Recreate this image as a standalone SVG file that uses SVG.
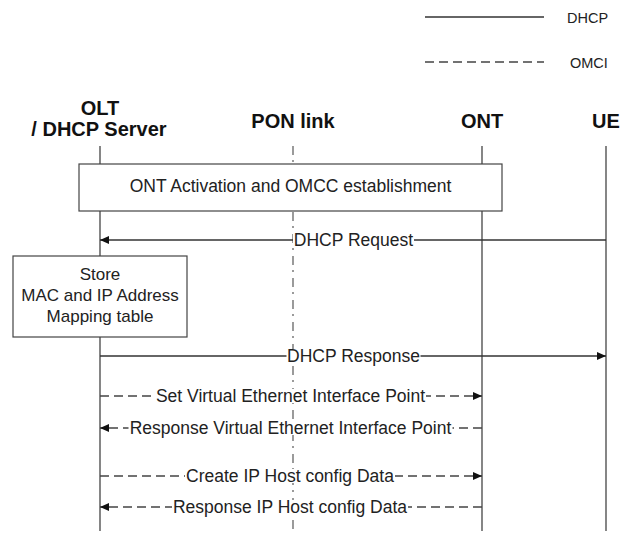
<svg xmlns="http://www.w3.org/2000/svg" width="634" height="534" viewBox="0 0 634 534">
  <style>
    .hdr { font-family: "Liberation Sans", Arial, sans-serif; font-weight: bold; font-size: 20px; fill: #111; text-anchor: middle; }
    .lbl { font-family: "Liberation Sans", Arial, sans-serif; font-size: 17.5px; fill: #222; text-anchor: middle; }
    .box-txt { font-family: "Liberation Sans", Arial, sans-serif; font-size: 17px; fill: #222; text-anchor: middle; }
    .leg { font-family: "Liberation Sans", Arial, sans-serif; font-size: 14.5px; fill: #222; }
    .life { stroke: #444; stroke-width: 1.3; fill: none; }
    .pon { stroke: #666; stroke-width: 1.3; fill: none; stroke-dasharray: 9 5 2 6; }
    .box { fill: #fff; stroke: #444; stroke-width: 1.2; }
    .dhcp { stroke: #333; stroke-width: 1.3; fill: none; }
    .omci { stroke: #444; stroke-width: 1.3; fill: none; stroke-dasharray: 9 5; }
    .mask { fill: #fff; }
  </style>
  <defs>
    <marker id="arrow" viewBox="0 0 9 8" refX="9" refY="4" markerWidth="9" markerHeight="8" markerUnits="userSpaceOnUse" orient="auto">
      <path d="M0,0 L9,4 L0,8 z" fill="#111"/>
    </marker>
  </defs>

  <!-- legend -->
  <g id="legend">
    <line x1="425" y1="17" x2="544" y2="17" class="dhcp"/>
    <text x="567" y="23" class="leg">DHCP</text>
    <line x1="425" y1="62" x2="544" y2="62" class="omci"/>
    <text x="570" y="68" class="leg">OMCI</text>
  </g>

  <!-- participants -->
  <g id="olt">
    <text x="100" y="115" class="hdr">OLT</text>
    <text x="99" y="136" class="hdr">/ DHCP Server</text>
    <line x1="100" y1="146" x2="100" y2="531" class="life"/>
  </g>
  <g id="pon-link">
    <text x="293" y="128" class="hdr">PON link</text>
    <line x1="293" y1="146" x2="293" y2="531" class="pon"/>
  </g>
  <g id="ont">
    <text x="482" y="128" class="hdr">ONT</text>
    <line x1="482" y1="146" x2="482" y2="531" class="life"/>
  </g>
  <g id="ue">
    <text x="606" y="128" class="hdr">UE</text>
    <line x1="606" y1="146" x2="606" y2="531" class="life"/>
  </g>

  <!-- activation / OMCC phase -->
  <g id="activation">
    <rect x="79" y="164" width="423" height="47" class="box"/>
    <text x="290.5" y="192" class="lbl">ONT Activation and OMCC establishment</text>
  </g>

  <!-- OLT local storage -->
  <g id="store">
    <rect x="13" y="256" width="174" height="81" class="box"/>
    <text x="100" y="280" class="box-txt">Store</text>
    <text x="100" y="301" class="box-txt">MAC and IP Address</text>
    <text x="100" y="322" class="box-txt">Mapping table</text>
  </g>

  <!-- messages -->
  <g id="connectors">
    <g id="dhcp-request">
      <line x1="606" y1="240" x2="100" y2="240" class="dhcp" marker-end="url(#arrow)"/>
      <rect x="293" y="233" width="121" height="14" class="mask"/>
      <text x="353.5" y="246" class="lbl">DHCP Request</text>
    </g>
    <g id="dhcp-response">
      <line x1="100" y1="356" x2="606" y2="356" class="dhcp" marker-end="url(#arrow)"/>
      <rect x="286.5" y="349" width="134" height="14" class="mask"/>
      <text x="353.5" y="362" class="lbl">DHCP Response</text>
    </g>
    <g id="set-veip">
      <line x1="100" y1="396" x2="482" y2="396" class="omci" marker-end="url(#arrow)"/>
      <rect x="155" y="389" width="271" height="14" class="mask"/>
      <text x="290.5" y="402" class="lbl">Set Virtual Ethernet Interface Point</text>
    </g>
    <g id="response-veip">
      <line x1="482" y1="428" x2="100" y2="428" class="omci" marker-end="url(#arrow)"/>
      <rect x="128.5" y="421" width="324" height="14" class="mask"/>
      <text x="290.5" y="434" class="lbl">Response Virtual Ethernet Interface Point</text>
    </g>
    <g id="create-iphost">
      <line x1="100" y1="476" x2="482" y2="476" class="omci" marker-end="url(#arrow)"/>
      <rect x="185" y="469" width="210" height="14" class="mask"/>
      <text x="290" y="482" class="lbl">Create IP Host config Data</text>
    </g>
    <g id="response-iphost">
      <line x1="482" y1="507" x2="100" y2="507" class="omci" marker-end="url(#arrow)"/>
      <rect x="172" y="500" width="236" height="14" class="mask"/>
      <text x="290" y="513" class="lbl">Response IP Host config Data</text>
    </g>
  </g>
</svg>
